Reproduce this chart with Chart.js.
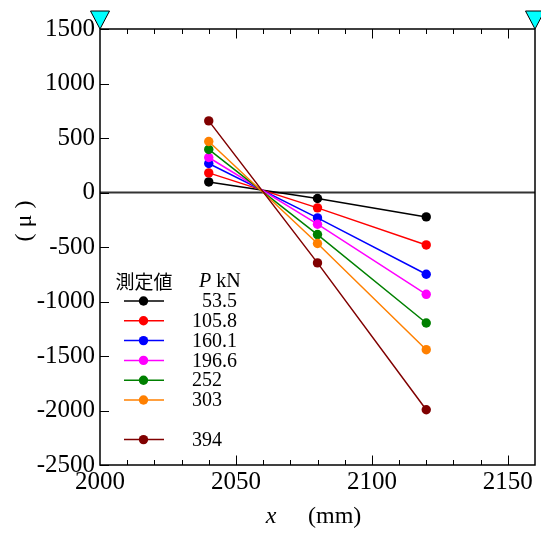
<!DOCTYPE html>
<html>
<head>
<meta charset="utf-8">
<script src="https://cdn.jsdelivr.net/npm/chart.js@4/dist/chart.umd.min.js"></script>
<style>
  body { margin: 0; background: #fff; }
  #wrap { width: 541px; height: 533px; }
</style>
</head>
<body>
<div id="wrap"><canvas id="c" width="541" height="533"></canvas></div>
<script>
// gauge positions (mm) and measured strain per load step
const xPositions = [2040, 2080, 2120];
const loads = [53.5, 105.8, 160.1, 196.6, 252, 303, 394];
const strain53 = [97, -55, -224];
const strain106 = [180, -141, -481];
const strain160 = [266, -233, -750];
const strain197 = [321, -291, -934];
const strain252 = [395, -386, -1197];
const strain303 = [468, -468, -1442];
const strain394 = [657, -646, -1993];
const seriesValues = [strain53, strain106, strain160, strain197, strain252, strain303, strain394];
const seriesColors = ['#000000', '#ff0000', '#0000ff', '#ff00ff', '#008000', '#ff8000', '#800000'];
const supportX = [2000, 2160]; // cyan markers on the top edge
const yTicks = [-2500, -2000, -1500, -1000, -500, 0, 500, 1000, 1500];
const xTicks = [2000, 2050, 2100, 2150];

const serif = '"Liberation Serif", serif';

const datasets = seriesValues.map((vals, i) => ({
  label: String(loads[i]),
  data: vals.map((v, k) => ({ x: xPositions[k], y: v })),
  borderColor: seriesColors[i],
  backgroundColor: seriesColors[i],
  pointBackgroundColor: seriesColors[i],
  pointBorderColor: seriesColors[i],
  borderWidth: 1.5,
  pointRadius: 4.7,
  pointBorderWidth: 0,
  order: -i
}));

const overlay = {
  id: 'overlay',
  beforeDatasetsDraw(chart) {
    const { ctx, chartArea: a, scales: { y } } = chart;
    const y0 = y.getPixelForValue(0);
    ctx.save();
    ctx.strokeStyle = '#333';
    ctx.lineWidth = 2;
    ctx.beginPath();
    ctx.moveTo(a.left, y0);
    ctx.lineTo(a.right, y0);
    ctx.stroke();
    ctx.restore();
  },
  afterDraw(chart) {
    const { ctx, chartArea: a, scales: { x, y } } = chart;
    ctx.save();
    // frame
    ctx.strokeStyle = '#000';
    ctx.lineWidth = 1.5;
    ctx.strokeRect(a.left, a.top, a.right - a.left, a.bottom - a.top);

    // x ticks, inside, bottom and top
    ctx.lineWidth = 1;
    for (let v = 2010; v < 2160; v += 10) {
      const px = Math.round(x.getPixelForValue(v)) + 0.5;
      const len = v % 50 === 0 ? 9.5 : 5;
      ctx.beginPath();
      ctx.moveTo(px, a.bottom);
      ctx.lineTo(px, a.bottom - len);
      ctx.moveTo(px, a.top);
      ctx.lineTo(px, a.top + len);
      ctx.stroke();
    }
    // y ticks, left only
    yTicks.forEach(v => {
      const py = Math.round(y.getPixelForValue(v)) + 0.5;
      ctx.beginPath();
      ctx.moveTo(a.left, py);
      ctx.lineTo(a.left + 9, py);
      ctx.stroke();
    });

    // tick labels
    ctx.fillStyle = '#000';
    ctx.font = '25px ' + serif;
    ctx.textBaseline = 'middle';
    ctx.textAlign = 'right';
    yTicks.forEach(v => ctx.fillText(String(v), a.left - 5, y.getPixelForValue(v)));
    ctx.textAlign = 'center';
    xTicks.forEach(v => ctx.fillText(String(v), x.getPixelForValue(v), a.bottom + 17));

    // cyan markers
    supportX.forEach(v => {
      const px = x.getPixelForValue(v);
      const py = y.getPixelForValue(1500);
      ctx.beginPath();
      ctx.moveTo(px - 9.5, py - 18);
      ctx.lineTo(px + 9.5, py - 18);
      ctx.lineTo(px, py);
      ctx.closePath();
      ctx.fillStyle = '#00ffff';
      ctx.fill();
      ctx.strokeStyle = '#000';
      ctx.lineWidth = 1;
      ctx.stroke();
    });

    // legend
    ctx.fillStyle = '#000';
    ctx.textBaseline = 'middle';
    ctx.textAlign = 'center';
    ctx.font = '19px "Noto Sans CJK JP", sans-serif';
    ctx.fillText('測定値', a.left + 44, 281.5);
    ctx.textAlign = 'left';
    ctx.font = 'italic 20px ' + serif;
    ctx.fillText('P', a.left + 99, 281.5);
    const pw = ctx.measureText('P ').width;
    ctx.font = '20px ' + serif;
    ctx.fillText('kN', a.left + 99 + pw, 281.5);

    loads.forEach((p, i) => {
      const slot = i < 6 ? i : i + 1;
      const ry = 301 + slot * 19.8;
      ctx.strokeStyle = seriesColors[i];
      ctx.lineWidth = 1.5;
      ctx.beginPath();
      ctx.moveTo(a.left + 24, ry);
      ctx.lineTo(a.left + 64, ry);
      ctx.stroke();
      ctx.fillStyle = seriesColors[i];
      ctx.beginPath();
      ctx.arc(a.left + 43.5, ry, 4.7, 0, Math.PI * 2);
      ctx.fill();
      ctx.fillStyle = '#000';
      ctx.font = '20px ' + serif;
      ctx.fillText((p < 100 ? '  ' : '') + p, a.left + 92, ry + 1);
    });

    // axis titles
    ctx.font = 'italic 24px ' + serif;
    ctx.textAlign = 'center';
    ctx.fillText('x', 271, 517);
    ctx.font = '24px ' + serif;
    ctx.textAlign = 'left';
    ctx.fillText('(mm)', 308, 517);

    ctx.translate(25, 221);
    ctx.rotate(-Math.PI / 2);
    ctx.textAlign = 'center';
    ctx.fillText('( μ )', 0, 0);
    ctx.restore();
  }
};

new Chart(document.getElementById('c'), {
  type: 'line',
  data: { datasets },
  options: {
    responsive: false,
    animation: false,
    layout: { padding: { top: 29, right: 6, left: 0, bottom: 0 } },
    plugins: { legend: { display: false }, tooltip: { enabled: false } },
    scales: {
      x: {
        type: 'linear',
        min: 2000,
        max: 2160,
        afterFit: s => { s.height = 68; },
        grid: { display: false, drawTicks: false },
        border: { display: false },
        ticks: { display: false }
      },
      y: {
        min: -2500,
        max: 1500,
        afterFit: s => { s.width = 100; },
        grid: { display: false, drawTicks: false },
        border: { display: false },
        ticks: { display: false }
      }
    }
  },
  plugins: [overlay]
});
</script>
</body>
</html>
